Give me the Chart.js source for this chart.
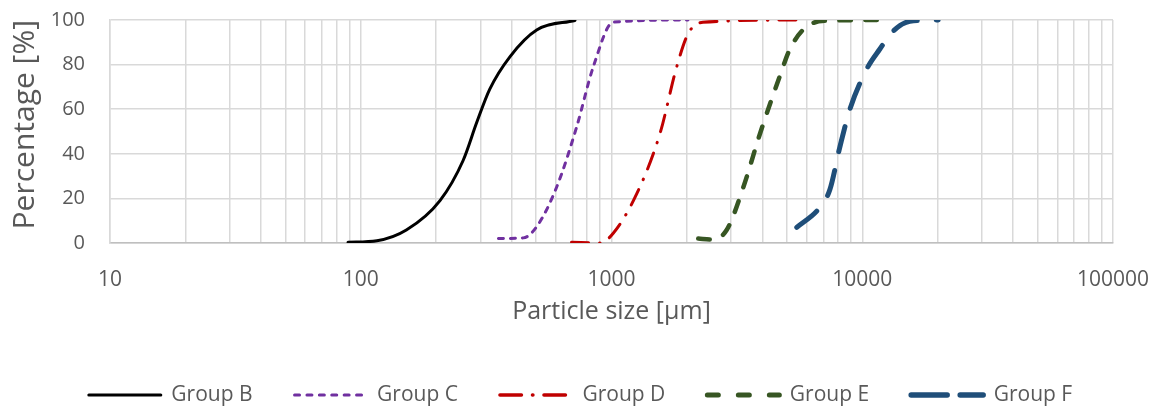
<!DOCTYPE html>
<html>
<head>
<meta charset="utf-8">
<script src="https://cdn.jsdelivr.net/npm/chart.js@4/dist/chart.umd.min.js"></script>
<style>
html,body{margin:0;padding:0;background:#fff;}
#wrap{width:1159px;height:408px;position:relative;}
</style>
</head>
<body>
<div id="wrap"><canvas id="c"></canvas></div>
<script>
// ---- data ----
const seriesNames = ['Group B', 'Group C', 'Group D', 'Group E', 'Group F'];

const sizesB = [89, 116, 152, 207, 256, 290, 327, 394, 503, 715];
const pctB   = [0.3, 1, 5.8, 19, 37, 54, 69, 83.6, 95.5, 99.8];

const sizesC = [354, 445, 503, 604, 726, 846, 1016, 2018];
const pctC   = [2, 2.3, 7.3, 25, 52, 79, 99, 100];

const sizesD = [693, 900, 1016, 1260, 1560, 1820, 2024, 2317, 5650];
const pctD   = [0.3, 0, 4.4, 22, 49, 79, 94, 99, 100];

const sizesE = [2218, 2510, 2879, 3355, 3910, 4697, 5150, 6000, 7400, 11430];
const pctE   = [2, 1.6, 5.8, 25, 49, 75, 87, 97, 99.7, 100];

const sizesF = [5480, 6780, 7430, 8140, 8930, 10420, 11760, 13290, 15500, 20090];
const pctF   = [7, 16, 24, 43, 60, 78, 87, 95, 99.4, 100];

const xTickLabels = [10, 100, 1000, 10000, 100000];
const xGridMultipliers = [1, 2, 3, 4, 5, 6, 7, 8, 9];
const yTickValues = [0, 20, 40, 60, 80, 100];

// ---- styling ----
const textColor = '#595959';
const gridColor = '#d9d9d9';
const FONT = "'Open Sans', sans-serif";

function pts(xs, ys) { return xs.map((x, i) => ({ x: x, y: ys[i] })); }

const styles = [
  { color: '#000000', width: 3,   dash: [],                 legendWidth: 3,   legendDash: [] },
  { color: '#7030A0', width: 3,   dash: [5, 7],             legendWidth: 3,   legendDash: [5, 7.4] },
  { color: '#C00000', width: 3,   dash: [17, 11, 0.5, 11],  legendWidth: 3.5, legendDash: [21.5, 11, 0.5, 11] },
  { color: '#375623', width: 4.5, dash: [11.5, 14.5],       legendWidth: 5,   legendDash: [11, 20] },
  { color: '#1F4E79', width: 5,   dash: [26, 19],           legendWidth: 5.5, legendDash: [36, 13] }
];
const allData = [pts(sizesB, pctB), pts(sizesC, pctC), pts(sizesD, pctD), pts(sizesE, pctE), pts(sizesF, pctF)];

const datasets = seriesNames.map((name, i) => ({
  label: name,
  data: allData[i],
  borderColor: styles[i].color,
  backgroundColor: 'rgba(0,0,0,0)',
  borderWidth: styles[i].width,
  borderDash: styles[i].dash,
  borderCapStyle: 'round',
  borderJoinStyle: 'round',
  pointRadius: 0,
  pointHoverRadius: 0,
  cubicInterpolationMode: 'monotone',
  fill: false
}));

const gridValues = [];
for (let d = 10; d < 100000; d *= 10) {
  xGridMultipliers.forEach(m => gridValues.push(d * m));
}
gridValues.push(100000);

// nudge the legend block to sit where the reference has it
const legendNudge = {
  id: 'legendNudge',
  afterLayout(chart) {
    const lg = chart.legend;
    if (!lg) return;
    lg.left += 24; lg.right += 24;
    lg.top += 11.5; lg.bottom += 11.5;
  }
};

new Chart(document.getElementById('c'), {
  type: 'line',
  data: { datasets: datasets },
  plugins: [legendNudge],
  options: {
    responsive: true,
    maintainAspectRatio: false,
    animation: false,
    devicePixelRatio: 1,
    layout: { padding: { top: 20, right: 46, left: 0, bottom: 4 } },
    plugins: {
      tooltip: { enabled: false },
      legend: {
        position: 'bottom',
        labels: {
          usePointStyle: true,
          pointStyle: 'line',
          pointStyleWidth: 72,
          boxHeight: 21,
          color: textColor,
          font: { family: FONT, size: 21 },
          padding: 42,
          generateLabels: (chart) => chart.data.datasets.map((ds, i) => ({
            text: ds.label,
            fillStyle: 'rgba(0,0,0,0)',
            strokeStyle: ds.borderColor,
            lineWidth: styles[i].legendWidth,
            lineDash: styles[i].legendDash,
            lineCap: 'round',
            lineJoin: 'round',
            pointStyle: 'line',
            fontColor: textColor,
            hidden: false,
            datasetIndex: i
          }))
        }
      }
    },
    scales: {
      x: {
        type: 'logarithmic',
        min: 10,
        max: 100000,
        afterBuildTicks: (scale) => { scale.ticks = gridValues.map(v => ({ value: v })); },
        afterFit: (scale) => { scale.height = 88; scale.paddingLeft = 0; scale.paddingRight = 0; },
        grid: { color: gridColor, lineWidth: 1.5, drawTicks: false },
        border: { color: '#bfbfbf', width: 1.5 },
        ticks: {
          autoSkip: false,
          maxRotation: 0,
          padding: 24,
          color: textColor,
          font: { family: FONT, size: 21 },
          callback: (v) => xTickLabels.includes(v) ? String(v) : ''
        },
        title: {
          display: true,
          text: 'Particle size [μm]',
          color: textColor,
          font: { family: FONT, size: 25 },
          padding: { top: 0, bottom: 4 }
        }
      },
      y: {
        min: 0,
        max: 100,
        afterBuildTicks: (scale) => { scale.ticks = yTickValues.map(v => ({ value: v })); },
        afterFit: (scale) => { scale.width = 110; scale.paddingTop = 0; scale.paddingBottom = 0; },
        grid: { color: gridColor, lineWidth: 1.5, drawTicks: false },
        border: { color: gridColor, width: 1.5 },
        ticks: {
          padding: 25,
          color: textColor,
          font: { family: FONT, size: 20 }
        },
        title: {
          display: true,
          text: 'Percentage [%]',
          align: 'end',
          color: textColor,
          font: { family: FONT, size: 30 },
          padding: { top: 7, bottom: 0 }
        }
      }
    }
  }
});
</script>
</body>
</html>
